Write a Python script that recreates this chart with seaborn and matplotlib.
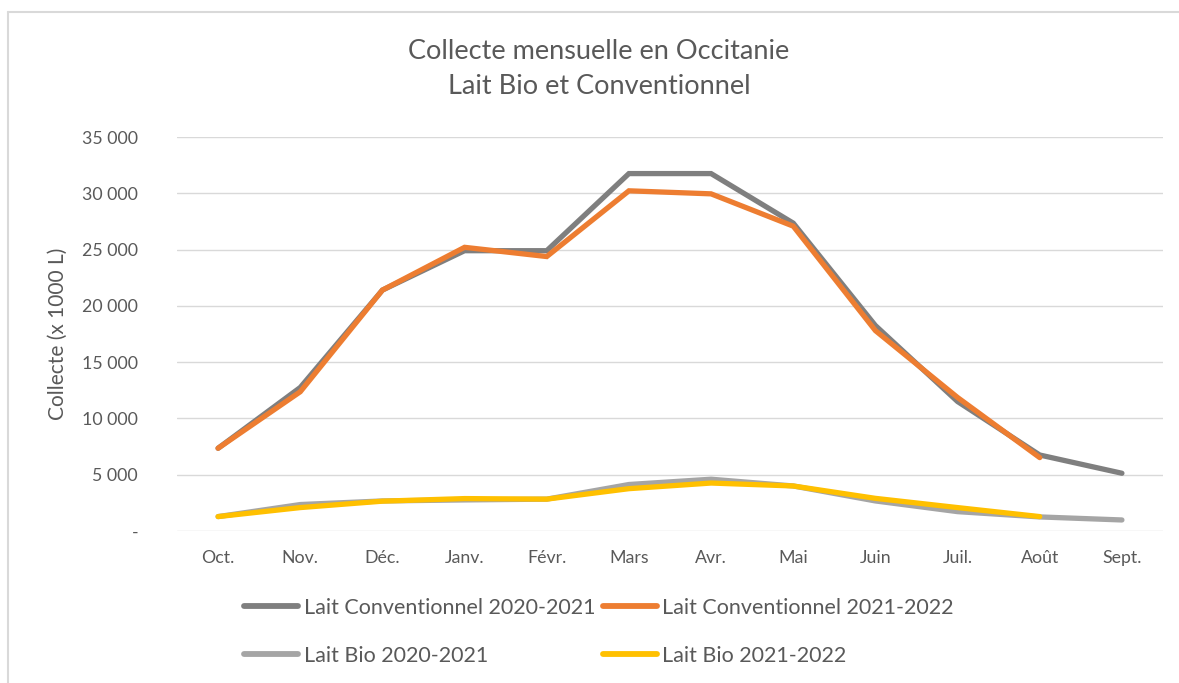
import matplotlib.pyplot as plt
import matplotlib.ticker as mticker
from matplotlib.lines import Line2D
import seaborn as sns
import pandas as pd
import numpy as np

# --- données (x 1000 L) ---
mois = ['Oct.', 'Nov.', 'Déc.', 'Janv.', 'Févr.', 'Mars', 'Avr.', 'Mai', 'Juin', 'Juil.', 'Août', 'Sept.']
conv_2020 = [7350, 12750, 21400, 24900, 24900, 31750, 31750, 27350, 18250, 11500, 6750, 5130]
conv_2021 = [7350, 12370, 21400, 25200, 24380, 30220, 29950, 27080, 17800, 11860, 6520, np.nan]
bio_2020 = [1280, 2350, 2670, 2760, 2830, 4130, 4600, 4000, 2670, 1720, 1250, 980]
bio_2021 = [1280, 2080, 2650, 2880, 2830, 3760, 4260, 4000, 2900, 2080, 1280, np.nan]

series = ['Lait Conventionnel 2020-2021', 'Lait Conventionnel 2021-2022',
          'Lait Bio 2020-2021', 'Lait Bio 2021-2022']
couleurs = ['#7F7F7F', '#ED7D31', '#A5A5A5', '#FFC000']

df = pd.DataFrame({
    'Mois': mois * 4,
    'Collecte': conv_2020 + conv_2021 + bio_2020 + bio_2021,
    'Série': [s for s in series for _ in mois],
}).dropna()

# --- style ---
sns.set_theme(style="white")
plt.rcParams['font.family'] = ['Lato', 'DejaVu Sans']
txt = '#595959'

fig = plt.figure(figsize=(11.79, 6.83), dpi=100)
ax = fig.add_axes([177 / 1179, 1 - 531 / 683, (1163 - 177) / 1179, (531 - 137) / 683])

sns.lineplot(data=df, x='Mois', y='Collecte', hue='Série', hue_order=series,
             palette=dict(zip(series, couleurs)), linewidth=3.8, sort=False,
             solid_capstyle='round', solid_joinstyle='miter', ax=ax, legend=False)

ax.set_xlim(-0.5, len(mois) - 0.5)
ax.set_ylim(0, 35000)
ax.set_yticks(np.arange(0, 35001, 5000))
ax.yaxis.set_major_formatter(mticker.FuncFormatter(
    lambda v, p: '-' if v == 0 else f'{int(v):,}'.replace(',', ' ')))
ax.yaxis.grid(True, color='#D9D9D9', linewidth=1.0)
ax.set_axisbelow(True)
for s in ax.spines.values():
    s.set_visible(False)
ax.tick_params(axis='both', length=0, labelsize=12.8, colors=txt)
ax.tick_params(axis='x', pad=14)
ax.tick_params(axis='y', pad=28)
ax.set_xlabel('')
ax.set_ylabel('Collecte (x 1000 L)', fontsize=15, color=txt, labelpad=10)

fig.text(0.508, 1 - 69 / 683, 'Collecte mensuelle en Occitanie\nLait Bio et Conventionnel',
         ha='center', va='center', fontsize=19.5, color=txt, linespacing=1.5)

# légende en deux lignes
handles = [Line2D([0], [0], color=c, lw=4.2, solid_capstyle='round') for c in couleurs]
order = [0, 2, 1, 3]
leg = fig.legend([handles[i] for i in order], [series[i] for i in order],
                 ncol=2, loc='center', bbox_to_anchor=(0.508, 1 - 632 / 683),
                 frameon=False, fontsize=15.5, handlelength=2.5, handletextpad=0.25,
                 columnspacing=0.35, labelspacing=1.3, labelcolor=txt)

# bordure de la zone du graphique
fig.add_artist(Line2D([8 / 1179, 1], [1 - 11.5 / 683, 1 - 11.5 / 683],
                      transform=fig.transFigure, color='#D9D9D9', lw=1.5))
fig.add_artist(Line2D([8 / 1179, 8 / 1179], [0, 1 - 11.5 / 683],
                      transform=fig.transFigure, color='#D9D9D9', lw=1.5))

fig.savefig('out.png', dpi=100)
